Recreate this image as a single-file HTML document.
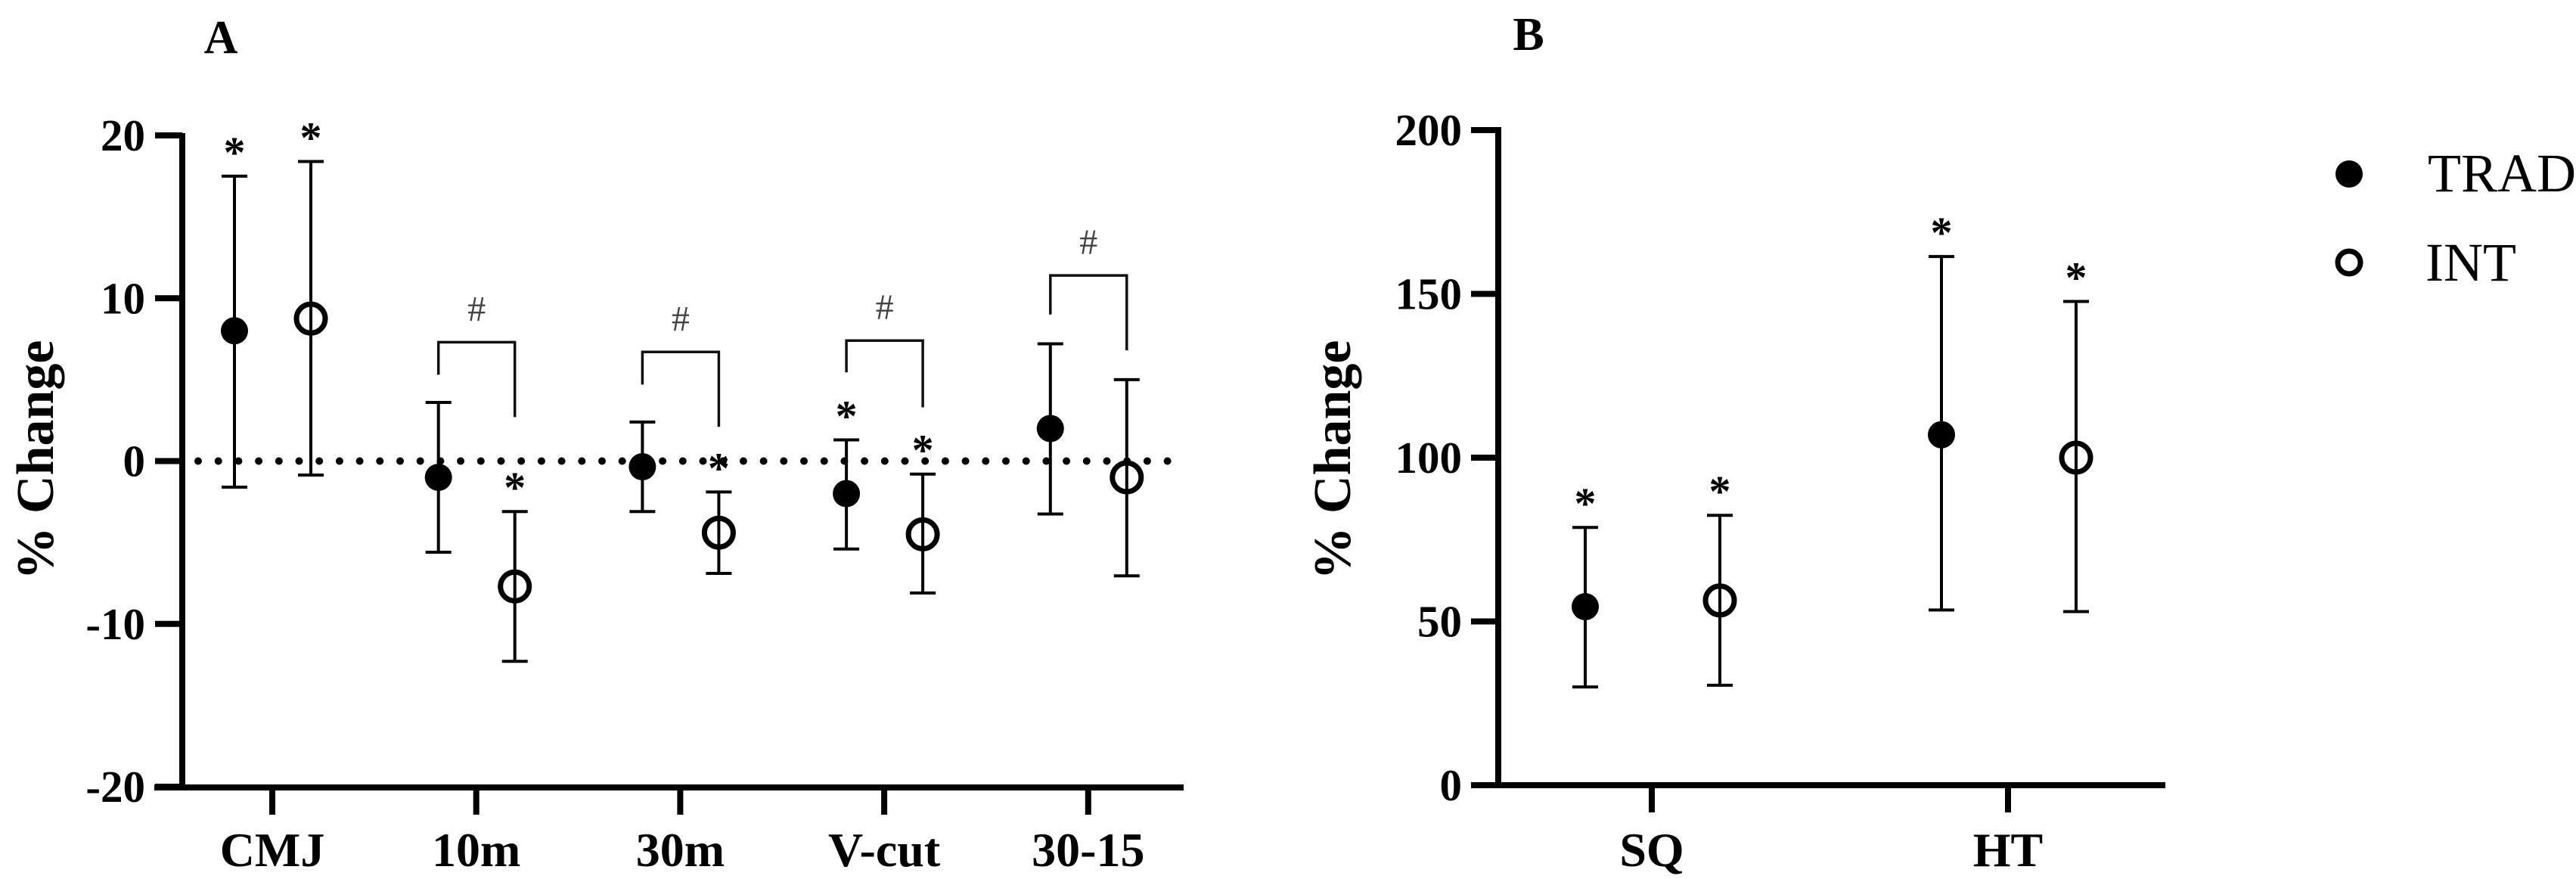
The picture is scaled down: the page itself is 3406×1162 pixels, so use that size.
<!DOCTYPE html>
<html><head><meta charset="utf-8"><style>
html,body{margin:0;padding:0;background:#fff;}
svg{display:block;font-family:"Liberation Serif",serif;}
</style></head><body>
<svg id="chart" width="3406" height="1162" viewBox="0 0 3406 1162" xmlns="http://www.w3.org/2000/svg">
<g id="pa"></g>
<g id="pb"></g>
<g id="lg"></g>
</svg>
<script>
// Panel A data
const catsA = ["CMJ","10m","30m","V-cut","30-15"];
const tradA = [8.0,-1.0,-0.35,-2.0,2.0];
const tradAHi = [17.5,3.6,2.4,1.3,7.2];
const tradALo = [-1.6,-5.6,-3.1,-5.4,-3.25];
const intA = [8.75,-7.7,-4.4,-4.5,-1.0];
const intAHi = [18.4,-3.1,-1.9,-0.8,5.0];
const intALo = [-0.86,-12.3,-6.9,-8.1,-7.05];
const tradAStar = [true,false,false,true,false];
const intAStar = [true,true,true,true,false];
const bracketTop = [null,7.3,6.7,7.4,11.4];
const bracketLeft = [null,5.3,4.7,5.45,9.0];
const bracketRight = [null,2.7,2.1,3.3,6.8];
const ticksA = [-20,-10,0,10,20];
// Panel B data
const catsB = ["SQ","HT"];
const tradB = [54.5,107];
const tradBHi = [78.7,161.4];
const tradBLo = [30,53.5];
const intB = [56.4,100];
const intBHi = [82.4,147.7];
const intBLo = [30.5,53];
const ticksB = [0,50,100,150,200];

const NS="http://www.w3.org/2000/svg";
function mk(parent,tag,attrs,text){const e=document.createElementNS(NS,tag);for(const k in attrs)e.setAttribute(k,attrs[k]);if(text!==undefined)e.textContent=text;parent.appendChild(e);return e;}

const yA=v=>609.5-(v*(1041-180)/40);
const xA=i=>360+i*269.7;
const yB=v=>1038-v*(1038-172)/200;
const xB=i=>2184+i*471;

const pa=document.getElementById('pa');
const pb=document.getElementById('pb');
const lg=document.getElementById('lg');

function errorBar(g,x,hi,lo,name){
  let l=mk(g,'line',{x1:x,x2:x,y1:hi,y2:lo,stroke:'#000','stroke-width':4});
  
  
  mk(g,'line',{x1:x-17,x2:x+17,y1:hi,y2:hi,stroke:'#000','stroke-width':4});
  mk(g,'line',{x1:x-17,x2:x+17,y1:lo,y2:lo,stroke:'#000','stroke-width':4});
}
function marker(g,x,y,filled,name){
  let c;
  if(filled) c=mk(g,'circle',{cx:x,cy:y,r:18,fill:'#000'});
  else c=mk(g,'circle',{cx:x,cy:y,r:19,fill:'#fff',stroke:'#000','stroke-width':7});
  
  
  if(!filled){mk(g,'line',{x1:x,x2:x,y1:y-16,y2:y+16,stroke:'#000','stroke-width':4});}
}
function star(g,x,ycap,name){
  const t=mk(g,'text',{x:x,y:ycap-12,'text-anchor':'middle','font-size':58,'font-weight':'bold',fill:'#000'},'*');
  
  
}

// Panel A
let t=mk(pa,'text',{x:292,y:70,'text-anchor':'middle','font-size':62,'font-weight':'bold'},'A');


let zl=mk(pa,'line',{x1:262,x2:1560,y1:yA(0),y2:yA(0),stroke:'#000','stroke-width':10,'stroke-linecap':'round','stroke-dasharray':'0 26.7'});


let ax=mk(pa,'line',{x1:241,x2:241,y1:176,y2:1045,stroke:'#000','stroke-width':8});


ax=mk(pa,'line',{x1:204,x2:1565,y1:1041,y2:1041,stroke:'#000','stroke-width':8});


ticksA.forEach(v=>{
  mk(pa,'line',{x1:205,x2:241,y1:yA(v),y2:yA(v),stroke:'#000','stroke-width':8});
  const tt=mk(pa,'text',{x:192,y:yA(v)+20,'text-anchor':'end','font-size':59,'font-weight':'bold'},String(v));
  
  
});
t=mk(pa,'text',{x:0,y:0,'text-anchor':'middle','font-size':70,'font-weight':'bold',transform:'translate(70,608) rotate(-90)'},'% Change');


catsA.forEach((c,i)=>{
  const x=xA(i);
  mk(pa,'line',{x1:x,x2:x,y1:1041,y2:1077,stroke:'#000','stroke-width':8});
  const lt=mk(pa,'text',{x:x,y:1145,'text-anchor':'middle','font-size':64,'font-weight':'bold'},c);
  
  
  const xt=x-50, xi=x+51;
  errorBar(pa,xt,yA(tradAHi[i]),yA(tradALo[i]),'trad-'+c);
  marker(pa,xt,yA(tradA[i]),true,'trad-point-'+c);
  if(tradAStar[i]) star(pa,xt,yA(tradAHi[i]),'trad-sig-star');
  errorBar(pa,xi,yA(intAHi[i]),yA(intALo[i]),'int-'+c);
  marker(pa,xi,yA(intA[i]),false,'int-point-'+c);
  if(intAStar[i]) star(pa,xi,yA(intAHi[i]),'int-sig-star');
  if(bracketTop[i]!==null){
    const p=mk(pa,'path',{d:`M${xt} ${yA(bracketLeft[i])} V${yA(bracketTop[i])} H${xi} V${yA(bracketRight[i])}`,fill:'none',stroke:'#111','stroke-width':3.5});
    
    
    const h=mk(pa,'text',{x:(xt+xi)/2,y:yA(bracketTop[i])-28,'text-anchor':'middle','font-size':48,fill:'#444'},'#');
    
    
  }
});

// Panel B
t=mk(pb,'text',{x:2021,y:66,'text-anchor':'middle','font-size':62,'font-weight':'bold'},'B');


ax=mk(pb,'line',{x1:1981,x2:1981,y1:168,y2:1042,stroke:'#000','stroke-width':8});


ax=mk(pb,'line',{x1:1945,x2:2863,y1:1038,y2:1038,stroke:'#000','stroke-width':8});


ticksB.forEach(v=>{
  mk(pb,'line',{x1:1945,x2:1981,y1:yB(v),y2:yB(v),stroke:'#000','stroke-width':8});
  const tt=mk(pb,'text',{x:1933,y:yB(v)+20,'text-anchor':'end','font-size':59,'font-weight':'bold'},String(v));
  
  
});
t=mk(pb,'text',{x:0,y:0,'text-anchor':'middle','font-size':70,'font-weight':'bold',transform:'translate(1785,608) rotate(-90)'},'% Change');


catsB.forEach((c,i)=>{
  const x=xB(i);
  mk(pb,'line',{x1:x,x2:x,y1:1038,y2:1074,stroke:'#000','stroke-width':8});
  const lt=mk(pb,'text',{x:x,y:1145,'text-anchor':'middle','font-size':64,'font-weight':'bold'},c);
  
  
  const xt=x-88, xi=x+90;
  errorBar(pb,xt,yB(tradBHi[i]),yB(tradBLo[i]),'trad-'+c);
  marker(pb,xt,yB(tradB[i]),true,'trad-point-'+c);
  star(pb,xt,yB(tradBHi[i]),'trad-sig-star');
  errorBar(pb,xi,yB(intBHi[i]),yB(intBLo[i]),'int-'+c);
  marker(pb,xi,yB(intB[i]),false,'int-point-'+c);
  star(pb,xi,yB(intBHi[i]),'int-sig-star');
});

// Legend
let m=mk(lg,'circle',{cx:3106,cy:230,r:18,fill:'#000'});


t=mk(lg,'text',{x:3210,y:253,'font-size':72},'TRAD');


m=mk(lg,'circle',{cx:3106,cy:347,r:15,fill:'#fff',stroke:'#000','stroke-width':7});


t=mk(lg,'text',{x:3207,y:371,'font-size':72},'INT');


</script>
</body></html>
